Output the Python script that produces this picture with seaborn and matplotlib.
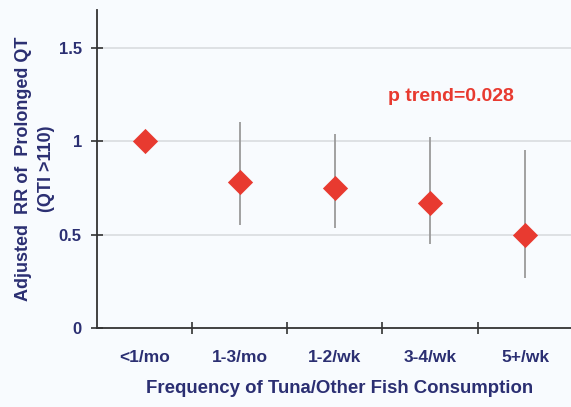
import matplotlib
matplotlib.use("Agg")
import matplotlib.pyplot as plt
import numpy as np
import pandas as pd
import seaborn as sns

# Data
categories = ["<1/mo", "1-3/mo", "1-2/wk", "3-4/wk", "5+/wk"]
rr = [1.0, 0.78, 0.75, 0.67, 0.50]
ci_low = [1.0, 0.55, 0.535, 0.45, 0.27]
ci_high = [1.0, 1.10, 1.04, 1.02, 0.95]
p_trend = "p trend=0.028"

navy = "#2b2f72"
red = "#e83a30"
bg = "#f8fbfe"

sns.set_theme(style="white")
plt.rcParams["font.family"] = ["Liberation Sans", "DejaVu Sans"]

df = pd.DataFrame({"Frequency": categories, "RR": rr, "lo": ci_low, "hi": ci_high})
df["pos"] = np.arange(len(df))

fig = plt.figure(figsize=(5.71, 4.07), dpi=100, facecolor=bg)
ax = fig.add_axes([0.170, 0.194, 0.833, 0.781], facecolor=bg)

# Gridlines
for y in [0.5, 1.0, 1.5]:
    ax.axhline(y, color="#d9dcdf", lw=1.2, zorder=0)

# Confidence intervals
ax.vlines(df["pos"], df["lo"], df["hi"], color="#9a9a9a", lw=1.3, zorder=1)

# Points
sns.scatterplot(data=df, x="pos", y="RR", marker="D", s=165, color=red,
                edgecolor=red, linewidth=0, ax=ax, zorder=3)

ax.set_xlim(-0.5, len(categories) - 0.5)
ax.set_ylim(0, 1.7)

ax.set_xticks(df["pos"])
ax.set_xticklabels(categories)
ax.set_xticks(np.arange(0.5, len(categories) - 0.5, 1), minor=True)
ax.tick_params(axis="x", which="major", length=0, pad=16, labelsize=12.5,
               labelcolor=navy)
ax.tick_params(axis="x", which="minor", length=8, width=1.2, direction="inout",
               color="#333333", bottom=True)

ax.set_yticks([0, 0.5, 1, 1.5])
ax.set_yticklabels(["0", "0.5", "1", "1.5"])
ax.tick_params(axis="y", length=8, width=1.2, direction="inout", color="#333333",
               left=True, labelsize=12, labelcolor=navy, pad=7)
for lab in ax.get_xticklabels() + ax.get_yticklabels():
    lab.set_fontweight("bold")

for side in ["top", "right"]:
    ax.spines[side].set_visible(False)
for side in ["left", "bottom"]:
    ax.spines[side].set_color("#333333")
    ax.spines[side].set_linewidth(1.3)

ax.set_xlabel("Frequency of Tuna/Other Fish Consumption", fontsize=13.4,
              fontweight="bold", color=navy)
ax.xaxis.set_label_coords(0.51, -0.165)
ax.set_ylabel("Adjusted  RR of  Prolonged QT\n(QTI >110)", fontsize=13,
              fontweight="bold", color=navy, labelpad=3, linespacing=1.45)

ax.text(3.22, 1.24, p_trend, color=red, fontsize=14, fontweight="bold",
        ha="center", va="center")

fig.savefig("out.png", dpi=100, facecolor=bg)
